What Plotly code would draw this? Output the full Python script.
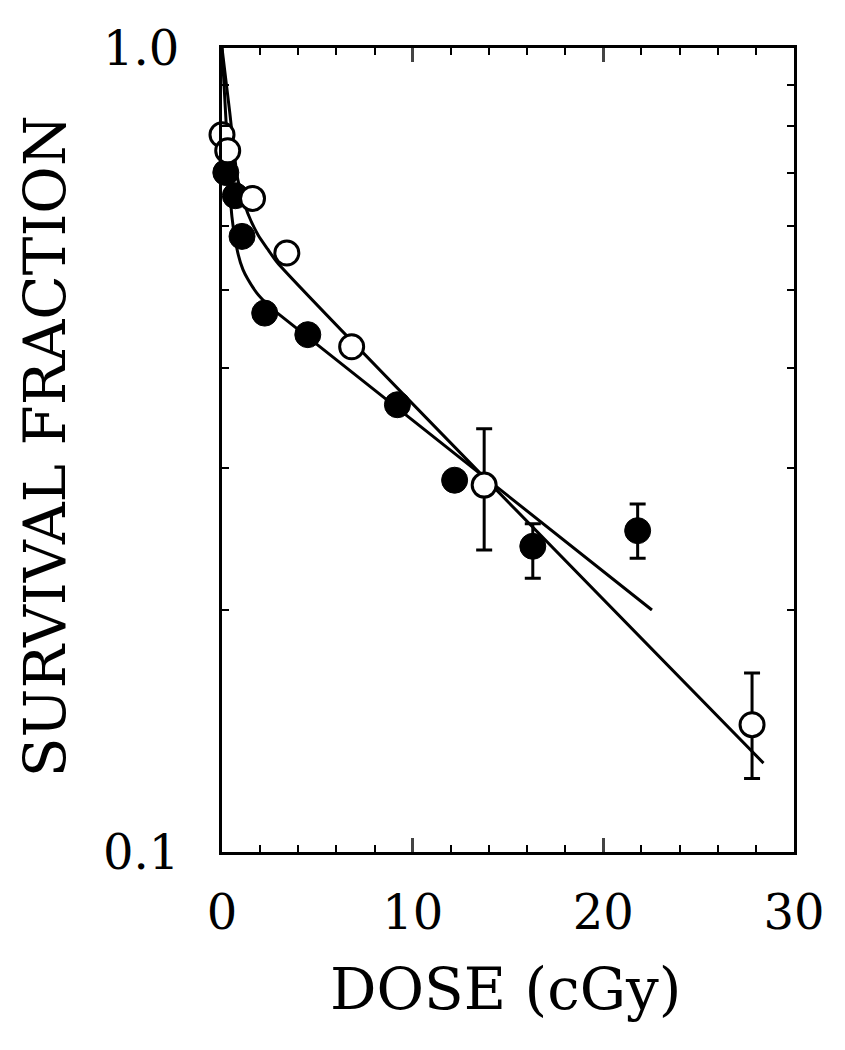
import plotly.graph_objects as go

# ---- data ----
open_dose = [0.0, 0.3, 1.6, 3.4, 6.8, 13.75, 27.8]
open_sf = [0.78, 0.745, 0.65, 0.556, 0.425, 0.286, 0.144]
open_err_up = [None, None, None, None, None, 0.050, 0.023]
open_err_dn = [None, None, None, None, None, 0.0485, 0.0206]

filled_dose = [0.2, 0.7, 1.05, 2.24, 4.5, 9.2, 12.2, 16.3, 21.8]
filled_sf = [0.70, 0.655, 0.583, 0.468, 0.44, 0.36, 0.29, 0.240, 0.251]
filled_err_up = [None, None, None, None, None, None, None, 0.016, 0.020]
filled_err_dn = [None, None, None, None, None, None, None, 0.021, 0.019]

# fitted curves, points
open_fit_dose = [0.0, 0.4, 0.83, 1.35, 1.9, 2.4, 2.9, 28.4]
open_fit_sf = [1.0, 0.834, 0.686, 0.623, 0.585, 0.562, 0.541, 0.129]
filled_fit_dose = [0.0, 0.25, 0.52, 0.83, 1.1, 1.35, 1.82, 2.3, 2.86, 22.55]
filled_fit_sf = [1.0, 0.78, 0.617, 0.556, 0.53, 0.516, 0.496, 0.482, 0.469, 0.20]

x_ticks = [0, 10, 20, 30]
y_ticks = [0.1, 1.0]
y_ticktext = ["0.1", "1.0"]
y_minor = [0.2, 0.3, 0.4, 0.5, 0.6, 0.7, 0.8, 0.9]

FONT = "DejaVu Serif"

fig = go.Figure()
fig.add_trace(go.Scatter(x=open_fit_dose, y=open_fit_sf, mode="lines",
                         line=dict(color="black", width=3, shape="spline", smoothing=0.6),
                         showlegend=False))
fig.add_trace(go.Scatter(x=filled_fit_dose, y=filled_fit_sf, mode="lines",
                         line=dict(color="black", width=3, shape="spline", smoothing=0.6),
                         showlegend=False))
fig.add_trace(go.Scatter(
    x=filled_dose, y=filled_sf, mode="markers", cliponaxis=False,
    marker=dict(symbol="circle", size=26, color="black", line=dict(color="black", width=1)),
    error_y=dict(type="data", symmetric=False, array=filled_err_up, arrayminus=filled_err_dn,
                 color="black", thickness=3, width=8),
    showlegend=False))
fig.add_trace(go.Scatter(
    x=open_dose, y=open_sf, mode="markers", cliponaxis=False,
    marker=dict(symbol="circle", size=24, color="white", line=dict(color="black", width=3)),
    error_y=dict(type="data", symmetric=False, array=open_err_up, arrayminus=open_err_dn,
                 color="black", thickness=3, width=8),
    showlegend=False))

fig.update_layout(
    width=829, height=1034,
    margin=dict(l=214, r=39, t=32, b=190),
    paper_bgcolor="white", plot_bgcolor="white",
    font=dict(family=FONT, color="black"),
    xaxis=dict(range=[0, 30], tickvals=x_ticks, ticks="inside", ticklen=14, tickwidth=3,
               showline=True, linecolor="black", linewidth=3, mirror="ticks",
               showgrid=False, zeroline=False, ticklabelstandoff=16,
               tickfont=dict(family=FONT, size=48, color="black"),
               minor=dict(dtick=2, ticks="inside", ticklen=7, tickwidth=2, tickcolor="black", showgrid=False)),
    yaxis=dict(type="log", range=[-1, 0], tickvals=y_ticks, ticktext=y_ticktext,
               ticks="inside", ticklen=14, tickwidth=3,
               showline=True, linecolor="black", linewidth=3, mirror="ticks",
               showgrid=False, zeroline=False, ticklabelstandoff=30,
               tickfont=dict(family=FONT, size=48, color="black"),
               minor=dict(tickvals=y_minor, ticks="inside", ticklen=7, tickwidth=2, tickcolor="black", showgrid=False)),
    annotations=[
        dict(text="SURVIVAL FRACTION", xref="paper", yref="paper", x=-0.309, y=0.505,
             textangle=-90, showarrow=False, xanchor="center", yanchor="middle",
             font=dict(family=FONT, size=58, color="black")),
        dict(text="DOSE (cGy)", xref="paper", yref="paper", x=0.495, y=-0.170,
             showarrow=False, xanchor="center", yanchor="middle",
             font=dict(family=FONT, size=58, color="black")),
    ],
)

fig.write_html("out.html")
